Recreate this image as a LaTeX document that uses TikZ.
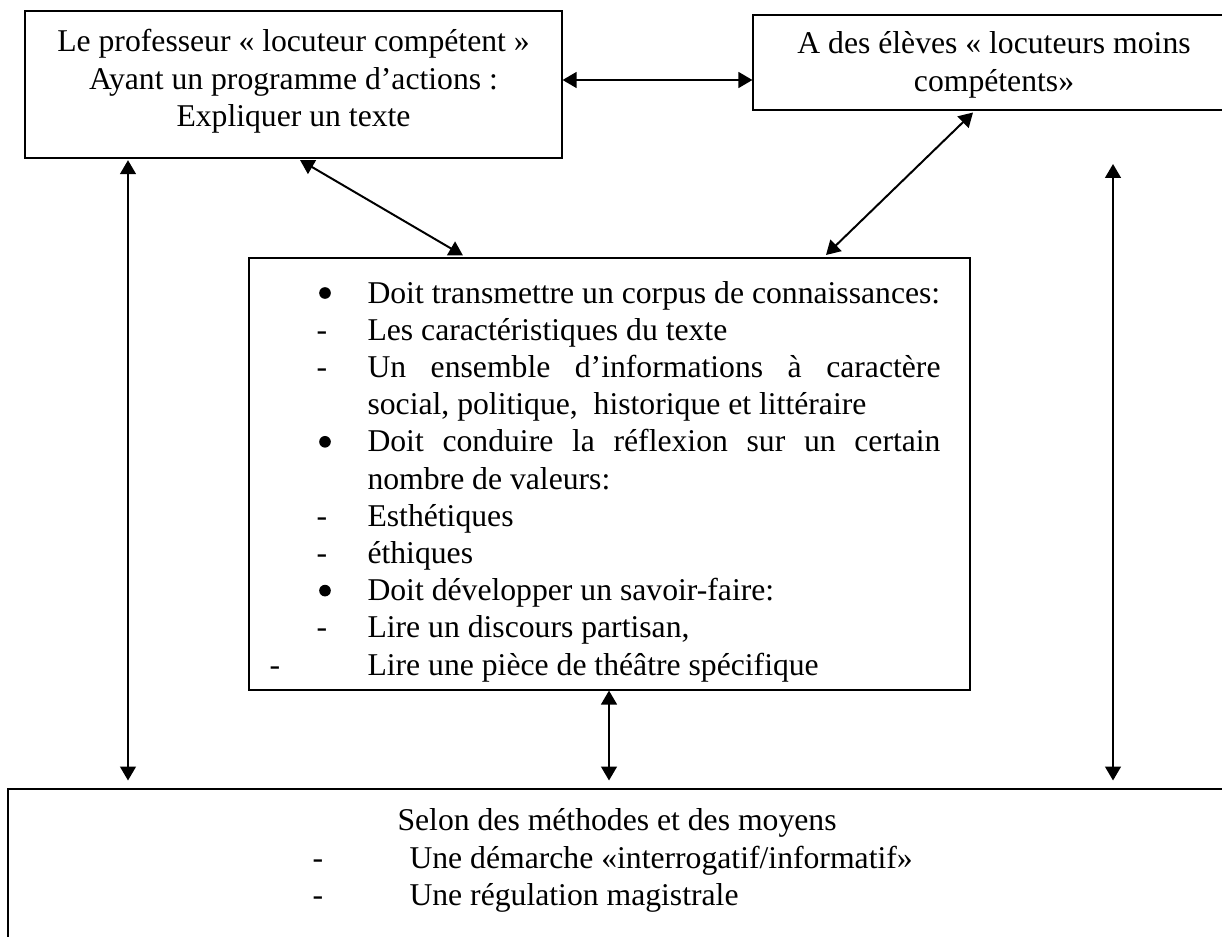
\documentclass[tikz,border=0pt]{standalone}
\usepackage{fontspec}
\setmainfont{Liberation Serif}
\usetikzlibrary{arrows.meta,calc}
\newcommand\pxu{0.3788pt}
\begin{document}
\begin{tikzpicture}[x=0.3788pt,y=-0.3788pt,
  box/.style={draw=black, line width=0.45pt, inner sep=0, fill=none},
  txt/.style={inner sep=0, anchor=base, font=\fontsize{12}{14}\selectfont},
  ltxt/.style={inner sep=0, anchor=base west, font=\fontsize{12}{14}\selectfont},
  bul/.style={circle, fill=black, draw=none, inner sep=0, minimum size=4.4pt},
  arr/.style={line width=0.75pt, {Triangle[length=5.3pt,width=6pt]}-{Triangle[length=5.3pt,width=6pt]}}]
\useasboundingbox (0,0) rectangle (1222,936);
\begin{scope}
\clip (0,0) rectangle (1222,936);
\node[box, minimum width={537*\pxu}, minimum height={147*\pxu}] (b1) at (293.5,84.5) {};
\node[box, minimum width={482*\pxu}, minimum height={95*\pxu}] (b2) at (994,62.5) {};
\node[box, minimum width={721*\pxu}, minimum height={432*\pxu}] (b3) at (609.5,474) {};
\node[box, minimum width={1232*\pxu}, minimum height={171*\pxu}] (b4) at (624,874.5) {};
\end{scope}
% box 1 text
\node[txt] (t11) at (293.5,52) {Le professeur «~locuteur compétent~»};
\node[txt] (t12) at (293.5,90) {Ayant un programme d’actions~:};
\node[txt] (t13) at (293.5,127) {Expliquer un texte};
% box 2 text
\node[txt] (t21) at (994,54) {A des élèves «~locuteurs moins};
\node[txt] (t22) at (994,92) {compétents»};
% middle box text
\node[bul] (m1b) at (325,293) {};
\node[ltxt] (m1) at (367,303) {Doit transmettre un corpus de connaissances:};
\node[txt] (m2d) at (322,340.2) {-};
\node[ltxt] (m2) at (367,340.2) {Les caractéristiques du texte};
\node[txt] (m3d) at (322,377.4) {-};
\node[ltxt] (m3) at (367,377.4) {\makebox[217.05pt][s]{Un ensemble d’informations à caractère}};
\node[ltxt] (m4) at (367,414.6) {social, politique,\ \ historique et littéraire};
\node[bul] (m5b) at (325,441.8) {};
\node[ltxt] (m5) at (367,451.8) {\makebox[217.05pt][s]{Doit conduire la réflexion sur un certain}};
\node[ltxt] (m6) at (367,489) {nombre de valeurs:};
\node[txt] (m7d) at (322,526.2) {-};
\node[ltxt] (m7) at (367,526.2) {Esthétiques};
\node[txt] (m8d) at (322,563.4) {-};
\node[ltxt] (m8) at (367,563.4) {éthiques};
\node[bul] (m9b) at (325,590.6) {};
\node[ltxt] (m9) at (367,600.6) {Doit développer un savoir-faire:};
\node[txt] (m10d) at (322,637.8) {-};
\node[ltxt] (m10) at (367,637.8) {Lire un discours partisan,};
\node[txt] (m11d) at (275,675) {-};
\node[ltxt] (m11) at (367,675) {Lire une pièce de théâtre spécifique};
% bottom box text
\node[ltxt] (s1) at (397,830) {Selon des méthodes et des moyens};
\node[txt] (s2d) at (318,868) {-};
\node[ltxt] (s2) at (409,868) {Une démarche «interrogatif/informatif»};
\node[txt] (s3d) at (318,905) {-};
\node[ltxt] (s3) at (409,905) {Une régulation magistrale};
% connector coordinates
\coordinate (hy) at (0,80);
\coordinate (xl) at (128,0);
\coordinate (xm) at (609,0);
\coordinate (xr) at (1113,0);
\coordinate (d1a) at (300,160);
\coordinate (d1b) at (463,255.5);
\coordinate (d2a) at (973,112.5);
\coordinate (d2b) at (826,255);
\coordinate (rtop) at (1113,164);
% connectors
\draw[arr] (b1.east |- hy) -- (b2.west |- hy);
\draw[arr] (d1a) -- (d1b);
\draw[arr] (d2a) -- (d2b);
\draw[arr, shorten <=0.6pt, shorten >=3pt] (xl |- b1.south) -- (xl |- b4.north);
\draw[arr, shorten >=3pt] (xm |- b3.south) -- (xm |- b4.north);
\draw[arr, shorten >=3pt] (rtop) -- (xr |- b4.north);
\end{tikzpicture}
\end{document}
